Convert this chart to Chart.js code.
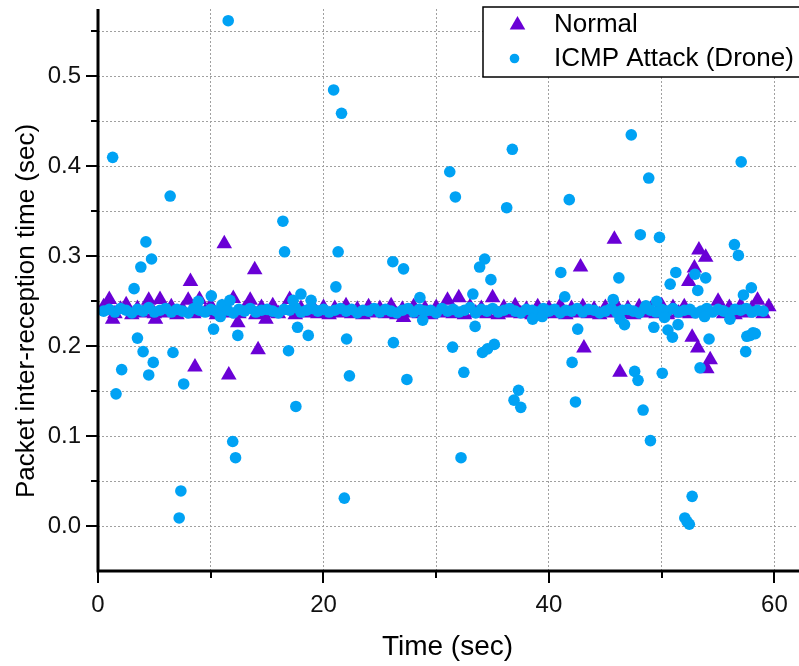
<!DOCTYPE html>
<html>
<head>
<meta charset="utf-8">
<script src="https://cdn.jsdelivr.net/npm/chart.js"></script>
<style>
  html, body { margin: 0; padding: 0; background: #fff; overflow: hidden; }
  #wrap { width: 806px; height: 666px; }
</style>
</head>
<body>
<div id="wrap"><canvas id="chart-packet" width="806" height="666"></canvas></div>
<script>
// Normal: dense band 0.5 .. 52.5 s, gap, 55 .. 59.5 s, then the outliers
const normalTime = [
    0.5, 1.0, 1.5, 2.0, 2.5, 3.0, 3.5, 4.0, 4.5, 5.0,
    5.5, 6.0, 6.5, 7.0, 7.5, 8.0, 8.5, 9.0, 9.5, 10.0,
    10.5, 11.0, 11.5, 12.0, 12.5, 13.0, 13.5, 14.0, 14.5, 15.0,
    15.5, 16.0, 16.5, 17.0, 17.5, 18.0, 18.5, 19.0, 19.5, 20.0,
    20.5, 21.0, 21.5, 22.0, 22.5, 23.0, 23.5, 24.0, 24.5, 25.0,
    25.5, 26.0, 26.5, 27.0, 27.5, 28.0, 28.5, 29.0, 29.5, 30.0,
    30.5, 31.0, 31.5, 32.0, 32.5, 33.0, 33.5, 34.0, 34.5, 35.0,
    35.5, 36.0, 36.5, 37.0, 37.5, 38.0, 38.5, 39.0, 39.5, 40.0,
    40.5, 41.0, 41.5, 42.0, 42.5, 43.0, 43.5, 44.0, 44.5, 45.0,
    45.5, 46.0, 46.5, 47.0, 47.5, 48.0, 48.5, 49.0, 49.5, 50.0,
    50.5, 51.0, 51.5, 52.0, 52.5,
    55.0, 55.5, 56.0, 56.5, 57.0, 57.5, 58.0, 58.5, 59.0, 59.5,
    1.3, 5.1, 8.2, 8.6, 11.2, 11.6, 12.4, 13.9, 14.2, 14.9,
    27.1, 42.8, 43.1, 45.8, 46.3, 52.4, 52.9, 53.3, 53.9, 52.7,
    53.2, 54.3, 54.0
];
const normalDelay = [
    0.244, 0.252, 0.236, 0.241, 0.246, 0.235, 0.242, 0.237, 0.251, 0.236,
    0.252, 0.237, 0.244, 0.235, 0.241, 0.251, 0.236, 0.252, 0.238, 0.245,
    0.235, 0.243, 0.237, 0.253, 0.236, 0.241, 0.251, 0.235, 0.243, 0.237,
    0.245, 0.236, 0.240, 0.252, 0.235, 0.242, 0.237, 0.245, 0.236, 0.243,
    0.235, 0.242, 0.237, 0.245, 0.236, 0.241, 0.235, 0.244, 0.237, 0.242,
    0.236, 0.245, 0.235, 0.241, 0.237, 0.244, 0.236, 0.242, 0.235, 0.243,
    0.237, 0.251, 0.236, 0.254, 0.235, 0.244, 0.237, 0.242, 0.236, 0.254,
    0.235, 0.243, 0.237, 0.245, 0.236, 0.241, 0.235, 0.244, 0.237, 0.242,
    0.236, 0.245, 0.235, 0.242, 0.237, 0.244, 0.236, 0.241, 0.235, 0.243,
    0.237, 0.245, 0.236, 0.242, 0.235, 0.244, 0.237, 0.241, 0.236, 0.245,
    0.235, 0.243, 0.237, 0.244, 0.236,
    0.250, 0.236, 0.243, 0.235, 0.245, 0.237, 0.242, 0.251, 0.236, 0.244,
    0.230, 0.230, 0.272, 0.177, 0.314, 0.168, 0.226, 0.285, 0.196, 0.230,
    0.232, 0.288, 0.198, 0.319, 0.171, 0.272, 0.287, 0.307, 0.299, 0.210,
    0.198, 0.185, 0.175
];

// ICMP attack: dense band 0.5 .. 59 s, then the scattered points
const attackTime = [
    0.5, 1.0, 1.5, 2.0, 2.5, 3.0, 3.5, 4.0, 4.5, 5.0,
    5.5, 6.0, 6.5, 7.0, 7.5, 8.0, 8.5, 9.0, 9.5, 10.0,
    10.5, 11.0, 11.5, 12.0, 12.5, 13.0, 13.5, 14.0, 14.5, 15.0,
    15.5, 16.0, 16.5, 17.0, 17.5, 18.0, 18.5, 19.0, 19.5, 20.0,
    20.5, 21.0, 21.5, 22.0, 22.5, 23.0, 23.5, 24.0, 24.5, 25.0,
    25.5, 26.0, 26.5, 27.0, 27.5, 28.0, 28.5, 29.0, 29.5, 30.0,
    30.5, 31.0, 31.5, 32.0, 32.5, 33.0, 33.5, 34.0, 34.5, 35.0,
    35.5, 36.0, 36.5, 37.0, 37.5, 38.0, 38.5, 39.0, 39.5, 40.0,
    40.5, 41.0, 41.5, 42.0, 42.5, 43.0, 43.5, 44.0, 44.5, 45.0,
    45.5, 46.0, 46.5, 47.0, 47.5, 48.0, 48.5, 49.0, 49.5, 50.0,
    50.5, 51.0, 51.5, 52.0, 52.5, 53.0, 53.5, 54.0, 54.5, 55.0,
    55.5, 56.0, 56.5, 57.0, 57.5, 58.0, 58.5, 59.0,
    1.3, 1.6, 2.1, 3.2, 3.5, 3.8, 4.0, 4.25, 4.5, 4.75,
    4.9, 6.4, 6.65, 7.2, 7.35, 7.6, 8.9, 10.05, 10.25, 10.85,
    11.55, 11.7, 11.95, 12.2, 12.4, 16.4, 16.55, 16.9, 17.3, 17.55,
    17.7, 18.0, 18.65, 18.9, 20.9, 21.1, 21.3, 21.6, 21.85, 22.05,
    22.3, 26.15, 26.2, 27.1, 27.4, 28.55, 28.8, 31.2, 31.45, 31.7,
    32.2, 32.45, 33.25, 33.45, 33.85, 34.1, 34.3, 34.55, 34.85, 35.15,
    36.25, 36.75, 36.9, 37.3, 37.5, 38.55, 39.4, 41.05, 41.4, 41.8,
    42.05, 42.35, 42.55, 45.7, 46.2, 46.3, 46.7, 47.3, 47.6, 47.9,
    48.1, 48.35, 48.6, 48.85, 49.0, 49.3, 49.55, 49.8, 50.05, 50.25,
    50.55, 50.75, 50.95, 51.25, 51.45, 52.05, 52.25, 52.45, 52.7, 52.95,
    53.2, 53.4, 53.8, 53.9, 54.2, 56.05, 56.45, 56.8, 57.05, 57.25,
    57.45, 57.55, 57.85, 57.95, 58.1, 58.3
];
const attackDelay = [
    0.239, 0.241, 0.238, 0.242, 0.240, 0.237, 0.241, 0.239, 0.243, 0.238,
    0.240, 0.242, 0.238, 0.241, 0.239, 0.237, 0.242, 0.240, 0.238, 0.241,
    0.239, 0.246, 0.240, 0.237, 0.241, 0.239, 0.242, 0.238, 0.240, 0.241,
    0.239, 0.237, 0.241, 0.240, 0.243, 0.238, 0.240, 0.242, 0.239, 0.241,
    0.238, 0.240, 0.242, 0.239, 0.241, 0.237, 0.240, 0.239, 0.242, 0.238,
    0.241, 0.239, 0.237, 0.240, 0.242, 0.238, 0.241, 0.239, 0.240, 0.237,
    0.242, 0.239, 0.241, 0.238, 0.240, 0.243, 0.237, 0.241, 0.239, 0.242,
    0.238, 0.240, 0.242, 0.239, 0.237, 0.241, 0.240, 0.238, 0.242, 0.239,
    0.241, 0.237, 0.240, 0.239, 0.242, 0.238, 0.241, 0.240, 0.237, 0.239,
    0.242, 0.238, 0.240, 0.241, 0.239, 0.237, 0.242, 0.240, 0.238, 0.241,
    0.239, 0.242, 0.238, 0.240, 0.241, 0.237, 0.239, 0.242, 0.238, 0.241,
    0.239, 0.237, 0.241, 0.240, 0.242, 0.238, 0.240, 0.239,
    0.410, 0.147, 0.174, 0.264, 0.209, 0.288, 0.194, 0.316, 0.168, 0.297,
    0.182, 0.367, 0.193, 0.009, 0.039, 0.158, 0.250, 0.256, 0.219, 0.233,
    0.562, 0.251, 0.094, 0.076, 0.212, 0.339, 0.305, 0.195, 0.251, 0.133,
    0.221, 0.258, 0.212, 0.251, 0.485, 0.266, 0.305, 0.459, 0.031, 0.208,
    0.167, 0.294, 0.204, 0.286, 0.163, 0.254, 0.229, 0.394, 0.199, 0.366,
    0.076, 0.171, 0.258, 0.222, 0.288, 0.193, 0.297, 0.197, 0.274, 0.202,
    0.354, 0.419, 0.140, 0.151, 0.132, 0.230, 0.233, 0.282, 0.255, 0.363,
    0.182, 0.138, 0.219, 0.252, 0.276, 0.230, 0.224, 0.435, 0.172, 0.162,
    0.324, 0.129, 0.245, 0.387, 0.095, 0.221, 0.250, 0.321, 0.170, 0.232,
    0.218, 0.269, 0.210, 0.282, 0.224, 0.009, 0.005, 0.002, 0.033, 0.280,
    0.262, 0.176, 0.233, 0.276, 0.208, 0.230, 0.313, 0.301, 0.405, 0.257,
    0.194, 0.211, 0.212, 0.265, 0.215, 0.214
];

const seriesNames = ['Normal', 'ICMP Attack (Drone)'];
const xTitle = 'Time (sec)';
const yTitle = 'Packet inter-reception time (sec)';

const purple = '#6a00d6';
const azure = '#00a2f4';
const font = 'Liberation Sans, Arial, sans-serif';

function toPoints(xs, ys) {
    return xs.map((x, i) => ({ x: x, y: ys[i] }));
}

// axis lines, outward tick marks (long on labelled ticks) and axis titles
const axisTicks = {
    id: 'axisTicks',
    afterDraw(chart) {
        const ctx = chart.ctx;
        const area = chart.chartArea;
        const x = chart.scales.x, y = chart.scales.y;
        ctx.save();
        ctx.strokeStyle = '#000';
        ctx.lineWidth = 3;
        ctx.beginPath();
        ctx.moveTo(area.left, area.top);
        ctx.lineTo(area.left, area.bottom);
        ctx.lineTo(area.right + 10, area.bottom);
        ctx.stroke();

        ctx.lineWidth = 2;
        ctx.beginPath();
        x.ticks.forEach(t => {
            const px = Math.round(x.getPixelForValue(t.value));
            const len = t.value % 20 === 0 ? 12 : 7;
            ctx.moveTo(px, area.bottom);
            ctx.lineTo(px, area.bottom + len);
        });
        y.ticks.forEach(t => {
            if (t.value < 0) return;
            const py = Math.round(y.getPixelForValue(t.value));
            const major = Math.abs(t.value * 10 - Math.round(t.value * 10)) < 1e-6;
            const len = major ? 12 : 7;
            ctx.moveTo(area.left, py);
            ctx.lineTo(area.left - len, py);
        });
        ctx.stroke();

        ctx.fillStyle = '#000';
        ctx.font = '28px ' + font;
        ctx.textAlign = 'center';
        ctx.textBaseline = 'alphabetic';
        ctx.fillText(xTitle, (area.left + area.right) / 2, 655);
        ctx.translate(34, 311);
        ctx.rotate(-Math.PI / 2);
        ctx.font = '26px ' + font;
        ctx.fillText(yTitle, 0, 0);
        ctx.restore();
    }
};

// boxed legend in the top right corner of the plot
const boxLegend = {
    id: 'boxLegend',
    afterDatasetsDraw(chart) {
        const ctx = chart.ctx;
        const left = 483, top = 7;
        ctx.save();
        ctx.fillStyle = '#fff';
        ctx.fillRect(left, top, 340, 70);
        ctx.strokeStyle = '#000';
        ctx.lineWidth = 1.5;
        ctx.strokeRect(left, top, 340, 70);

        const tx = 517.5, ty = 25, r = 9;
        ctx.fillStyle = purple;
        ctx.beginPath();
        ctx.moveTo(tx, ty - r);
        ctx.lineTo(tx + r * 0.866, ty + r * 0.5);
        ctx.lineTo(tx - r * 0.866, ty + r * 0.5);
        ctx.closePath();
        ctx.fill();

        ctx.fillStyle = azure;
        ctx.beginPath();
        ctx.arc(514.5, 58.5, 4.8, 0, Math.PI * 2);
        ctx.fill();

        ctx.fillStyle = '#000';
        ctx.font = '26px ' + font;
        ctx.textAlign = 'left';
        ctx.textBaseline = 'middle';
        ctx.fillText(seriesNames[0], 554, 25);
        ctx.fillText(seriesNames[1], 554, 59);
        ctx.restore();
    }
};

function noPad(scale) {
    scale.paddingTop = 0;
    scale.paddingBottom = 0;
    scale.paddingLeft = 0;
    scale.paddingRight = 0;
}

let ctp = document.getElementById('chart-packet').getContext('2d');
let chart_packet = new Chart(ctp, {
    type: 'scatter',
    data: {
        datasets: [{
            label: seriesNames[0],
            data: toPoints(normalTime, normalDelay),
            pointStyle: 'triangle',
            pointRadius: 9,
            pointBorderWidth: 0,
            backgroundColor: purple,
            borderColor: purple,
            order: 2
        }, {
            label: seriesNames[1],
            data: toPoints(attackTime, attackDelay),
            pointStyle: 'circle',
            pointRadius: 5.8,
            pointBorderWidth: 0,
            backgroundColor: azure,
            borderColor: azure,
            order: 1
        }]
    },
    options: {
        responsive: false,
        animation: false,
        layout: {
            padding: { top: 7, right: 2, left: 0, bottom: 0 }
        },
        scales: {
            x: {
                type: 'linear',
                min: 0,
                max: 62,
                afterFit: function (scale) { scale.height = 95; noPad(scale); },
                grid: { color: '#a0a0a0', lineWidth: 1, drawTicks: false },
                border: { display: false, dash: [2, 2] },
                ticks: {
                    stepSize: 10,
                    includeBounds: false,
                    autoSkip: false,
                    maxRotation: 0,
                    padding: 20,
                    color: '#111',
                    font: { family: font, size: 24 },
                    callback: function (value) {
                        return value % 20 === 0 ? String(value) : '';
                    }
                }
            },
            y: {
                min: -0.05,
                max: 0.575,
                afterFit: function (scale) { scale.width = 98; noPad(scale); },
                grid: { color: '#a0a0a0', lineWidth: 1, drawTicks: false },
                border: { display: false, dash: [2, 2] },
                ticks: {
                    stepSize: 0.05,
                    includeBounds: false,
                    autoSkip: false,
                    padding: 17,
                    color: '#111',
                    font: { family: font, size: 24 },
                    callback: function (value) {
                        const major = Math.abs(value * 10 - Math.round(value * 10)) < 1e-6;
                        return major && value > -0.01 ? value.toFixed(1) : '';
                    }
                }
            }
        },
        plugins: {
            legend: { display: false },
            tooltip: { enabled: false }
        }
    },
    plugins: [axisTicks, boxLegend]
});
</script>
</body>
</html>
